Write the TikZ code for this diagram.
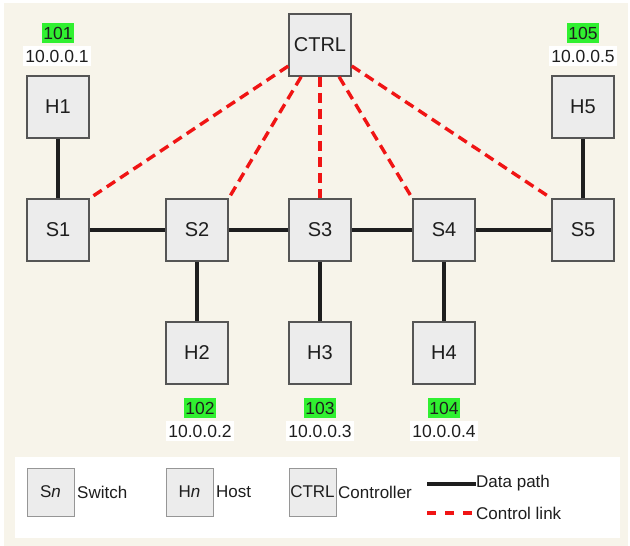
\documentclass[tikz,border=0pt]{standalone}
\usepackage{fontspec}
\setmainfont{Liberation Sans}
\definecolor{paper}{RGB}{247,244,234}
\definecolor{boxfill}{RGB}{236,236,236}
\definecolor{boxline}{RGB}{85,85,85}
\definecolor{lgline}{RGB}{150,150,150}
\definecolor{taggreen}{RGB}{48,240,48}
\definecolor{ink}{RGB}{30,30,30}
\definecolor{ctrlred}{RGB}{240,20,20}
\begin{document}
\begin{tikzpicture}[x=1pt,y=-1pt,
  dev/.style={draw=boxline, fill=boxfill, line width=1.5pt, minimum width=62pt,
    minimum height=62pt, inner sep=0pt, text=ink, font=\fontsize{20}{23}\selectfont},
  lgdev/.style={draw=lgline, fill=boxfill, line width=1pt, minimum width=47pt,
    minimum height=48pt, inner sep=0pt, text=ink, font=\fontsize{17}{20}\selectfont},
  lgtext/.style={anchor=west, inner sep=0pt, text=ink, font=\fontsize{17}{20}\selectfont},
  idtag/.style={fill=taggreen, minimum height=20pt, inner xsep=1.5pt, inner ysep=0pt,
    text=ink, font=\fontsize{17.5}{20}\selectfont},
  iptag/.style={fill=white, minimum height=20pt, inner xsep=2.5pt, inner ysep=0pt,
    text=ink, font=\fontsize{17.5}{20}\selectfont},
  datalink/.style={draw=ink, line width=3.4pt},
  ctrllink/.style={draw=ctrlred, line width=3.4pt, dash pattern=on 10pt off 6pt},
  lgctrl/.style={draw=ctrlred, line width=3.4pt, dash pattern=on 9pt off 9pt}]

% canvas
\fill[white] (0,0) rectangle (630,546);
\fill[paper] (4,3) rectangle (628,546);
\useasboundingbox (0,0) rectangle (630,546);

% devices
\node[dev] (ctrl) at (320,45) {CTRL};
\node[dev] (h1) at (58,107) {H1};
\node[dev] (h5) at (583,107) {H5};
\node[dev] (s1) at (58,230) {S1};
\node[dev] (s2) at (197,230) {S2};
\node[dev] (s3) at (320,230) {S3};
\node[dev] (s4) at (444,230) {S4};
\node[dev] (s5) at (583,230) {S5};
\node[dev] (h2) at (197,353) {H2};
\node[dev] (h3) at (320,353) {H3};
\node[dev] (h4) at (444,353) {H4};

% control links
\draw[ctrllink] (ctrl) -- (s1.north east);
\draw[ctrllink] (ctrl) -- (s2.north east);
\draw[ctrllink] (ctrl) -- (s3.north);
\draw[ctrllink] (ctrl) -- (s4.north west);
\draw[ctrllink] (ctrl) -- (s5.north west);

% data path
\draw[datalink] (h1) -- (s1);
\draw[datalink] (s1) -- (s2);
\draw[datalink] (s2) -- (s3);
\draw[datalink] (s3) -- (s4);
\draw[datalink] (s4) -- (s5);
\draw[datalink] (s5) -- (h5);
\draw[datalink] (s2) -- (h2);
\draw[datalink] (s3) -- (h3);
\draw[datalink] (s4) -- (h4);

% host identifiers and addresses
\node[idtag] (id1) at (58,33) {101};
\node[iptag] (ip1) at (57,56) {10.0.0.1};
\node[idtag] (id5) at (583,33) {105};
\node[iptag] (ip5) at (583,56) {10.0.0.5};
\node[idtag] (id2) at (200,408) {102};
\node[iptag] (ip2) at (200,431) {10.0.0.2};
\node[idtag] (id3) at (320,408) {103};
\node[iptag] (ip3) at (320,431) {10.0.0.3};
\node[idtag] (id4) at (444,408) {104};
\node[iptag] (ip4) at (444,431) {10.0.0.4};

% legend
\fill[white] (15,457) rectangle (620,538);
\node[lgdev] (lgs) at (50.5,492) {S\textit{n}};
\node[lgtext] (lgst) at (77,492) {Switch};
\node[lgdev] (lgh) at (189.5,492) {H\textit{n}};
\node[lgtext] (lght) at (216,492) {Host};
\node[lgdev] (lgc) at (312.5,492) {CTRL};
\node[lgtext] (lgct) at (338,492) {Controller};
\coordinate (dpa) at (427,484);
\node[lgtext] (dpt) at (476,483) {Data path};
\draw[datalink] (dpa) -- (dpa -| dpt.west);
\coordinate (cla) at (427,513);
\node[lgtext] (clt) at (476,513) {Control link};
\draw[lgctrl] (cla) -- (clt.west);
\end{tikzpicture}
\end{document}
